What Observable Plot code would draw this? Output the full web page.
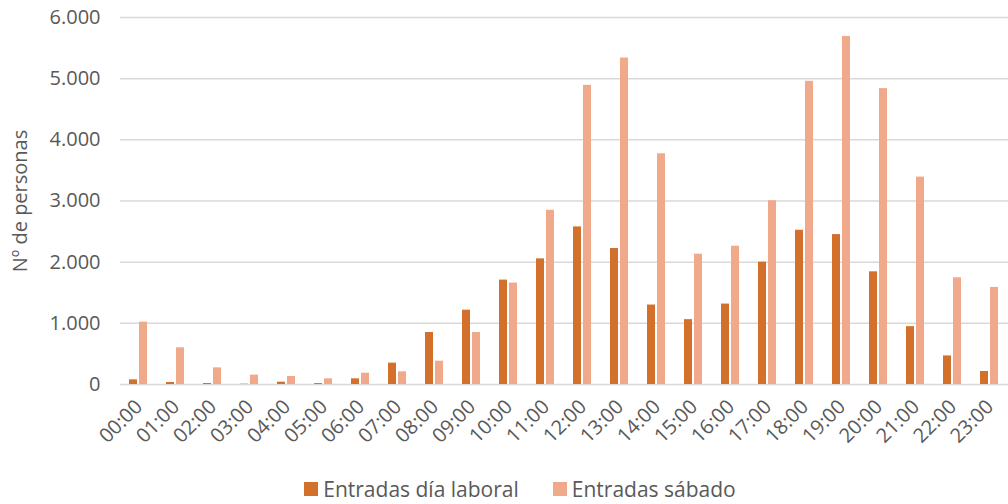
<!DOCTYPE html>
<html><head><meta charset="utf-8">
<script src="https://cdn.jsdelivr.net/npm/d3@7"></script>
<script src="https://cdn.jsdelivr.net/npm/@observablehq/plot@0.6"></script>
<style>
body{margin:0;background:#fff;font-family:"Open Sans",sans-serif;overflow:hidden;}
#chart svg{display:block;}
#legend{display:flex;justify-content:center;align-items:center;gap:34px;font-size:21px;color:#595959;line-height:26px;margin-top:8px;padding-left:32px;}
#legend .item{display:flex;align-items:center;gap:5px;}
#legend .sw{width:14px;height:14px;display:inline-block;}
</style></head><body><div id="chart"></div><div id="legend"></div>
<script>
const hours = ["00:00","01:00","02:00","03:00","04:00","05:00","06:00","07:00","08:00","09:00","10:00","11:00","12:00","13:00","14:00","15:00","16:00","17:00","18:00","19:00","20:00","21:00","22:00","23:00"];
const series = ["Entradas día laboral","Entradas sábado"];
const laboral = [76,33,16,5,38,15,93,349,850,1215,1707,2054,2576,2223,1299,1060,1315,2000,2522,2451,1842,946,467,212];
const sabado = [1019,600,272,153,131,93,185,207,381,850,1658,2848,4891,5337,3772,2130,2261,3005,4957,5690,4837,3391,1745,1587];
const colors = ["#D2702C","#F1A98B"];
const yTicks = [0,1000,2000,3000,4000,5000,6000];
const yLabel = "Nº de personas";

const data = hours.flatMap((h,i)=>[
  {hour:h, serie:series[0], value:laboral[i]},
  {hour:h, serie:series[1], value:sabado[i]}
]);
const es = d3.formatLocale({decimal:",", thousands:".", grouping:[3], currency:["","€"]});
const fmt = es.format(",d");

const chart = Plot.plot({
  width:1008, height:468,
  marginLeft:112, marginRight:-7, marginTop:17, marginBottom:84,
  style:{fontFamily:"'Open Sans', sans-serif", fontSize:"20px", color:"#595959", background:"#fff"},
  fx:{domain:hours, padding:0},
  x:{domain:series, axis:null, paddingInner:0.19, paddingOuter:0.87},
  y:{domain:[0,6000]},
  color:{domain:series, range:colors},
  marks:[
    Plot.gridY(yTicks, {stroke:"#d9d9d9", strokeOpacity:1, strokeWidth:1.5}),
    Plot.axisY(yTicks, {tickFormat:fmt, tickSize:0, tickPadding:20, label:null, fontSize:20, fill:"#595959"}),
    Plot.axisY({ticks:[], tickSize:0, label:yLabel, labelAnchor:"center", labelArrow:"none", labelOffset:108, fontSize:20, fill:"#595959"}),
    Plot.axisFx({anchor:"bottom", tickRotate:-45, tickSize:0, tickPadding:19, label:null, fontSize:20, fill:"#595959"}),
    Plot.barY(data, {fx:"hour", x:"serie", y:"value", fill:"serie"})
  ]
});
document.getElementById("chart").appendChild(chart);

const legend = document.getElementById("legend");
series.forEach((s,i)=>{
  const it = document.createElement("span"); it.className="item";
  const sw = document.createElement("span"); sw.className="sw"; sw.style.background=colors[i];
  const tx = document.createElement("span"); tx.textContent=s;
  it.appendChild(sw); it.appendChild(tx); legend.appendChild(it);
});
</script></body></html>
